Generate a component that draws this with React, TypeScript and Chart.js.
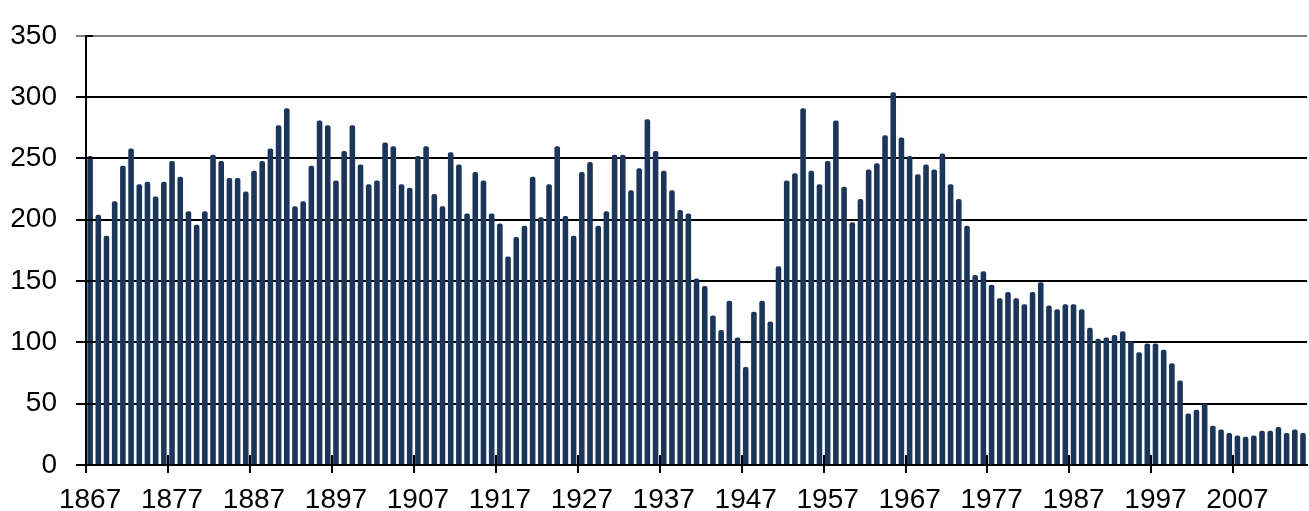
import React, { useEffect, useRef } from 'react';
import { Chart, registerables } from 'chart.js';

Chart.register(...registerables);

// one bar per year, starting in 1867
const startYear = 1867;
const values = [
  252, 204, 187, 215, 244, 258, 229, 231, 219, 231, // 1867-1876
  248, 235, 207, 196, 207, 253, 248, 234, 234, 223, // 1877-1886
  240, 248, 258, 277, 291, 211, 215, 244, 281, 277, // 1887-1896
  232, 256, 277, 245, 229, 232, 263, 260, 229, 226, // 1897-1906
  252, 260, 221, 211, 255, 245, 205, 239, 232, 205, // 1907-1916
  197, 170, 186, 195, 235, 202, 229, 260, 203, 187, // 1917-1926
  239, 247, 195, 207, 253, 253, 224, 242, 282, 256, // 1927-1936
  240, 224, 208, 205, 152, 146, 122, 110, 134, 104, // 1937-1946
  80, 125, 134, 117, 162, 232, 238, 291, 240, 229,  // 1947-1956
  248, 281, 227, 198, 217, 241, 246, 269, 304, 267, // 1957-1966
  252, 237, 245, 241, 254, 229, 217, 195, 155, 158, // 1967-1976
  147, 136, 141, 136, 131, 141, 149, 130, 127, 131, // 1977-1986
  131, 127, 112, 103, 104, 106, 109, 101, 92, 99,   // 1987-1996
  99, 94, 83, 69, 42, 45, 50, 32, 29, 26,           // 1997-2006
  24, 23, 24, 28, 28, 31, 26, 29, 26,               // 2007-2015
];
const years = values.map((_, i) => String(startYear + i));
const tickYears = ['1867', '1877', '1887', '1897', '1907', '1917', '1927', '1937', '1947', '1957', '1967', '1977', '1987', '1997', '2007'];
const yTicks = [0, 50, 100, 150, 200, 250, 300, 350];

const FONT = "'Liberation Sans', Arial, sans-serif";

// Excel-style "cross" tick marks: draw the part that pokes into the plot area
const crossTicks = {
  id: 'crossTicks',
  afterDatasetsDraw(chart: any) {
    const { ctx, scales } = chart;
    const x = scales.x;
    const y = scales.y;
    const half = (x.getPixelForValue(1) - x.getPixelForValue(0)) / 2;
    ctx.save();
    ctx.strokeStyle = '#000';
    ctx.lineWidth = 2;
    ctx.beginPath();
    years.forEach((yr, i) => {
      if (!tickYears.includes(yr)) return;
      const px = Math.round(x.getPixelForValue(i) - half);
      ctx.moveTo(px, y.bottom);
      ctx.lineTo(px, y.bottom - 10);
    });
    yTicks.forEach(v => {
      const py = Math.round(y.getPixelForValue(v));
      ctx.moveTo(x.left, py);
      ctx.lineTo(x.left + 7, py);
    });
    ctx.stroke();
    ctx.restore();
  },
};

const App: React.FC = () => {
  const canvasRef = useRef<HTMLCanvasElement | null>(null);

  useEffect(() => {
    if (!canvasRef.current) return;
    const ctx = canvasRef.current.getContext('2d');
    if (!ctx) return;

    const chart = new Chart(ctx, {
      type: 'bar',
      data: {
        labels: years,
        datasets: [{
          data: values,
          backgroundColor: '#1b365d',
          barPercentage: 0.68,
          categoryPercentage: 1,
          borderRadius: 2,
        }],
      },
      options: {
        animation: false,
        responsive: true,
        maintainAspectRatio: false,
        layout: { padding: { top: 29, left: 0, right: 0, bottom: 0 } },
        plugins: {
          legend: { display: false },
          tooltip: { enabled: false },
        },
        scales: {
          x: {
            offset: true,
            grid: {
              offset: true,
              drawOnChartArea: false,
              drawTicks: true,
              tickLength: 8,
              // tick marks only on the category boundary before each labelled year
              color: (c: any) => (c.tick && tickYears.includes(years[c.index]) ? '#000' : 'rgba(0,0,0,0)'),
              lineWidth: 2,
            },
            border: { display: true, color: '#000', width: 2 },
            ticks: {
              autoSkip: false,
              maxRotation: 0,
              minRotation: 0,
              padding: 10,
              color: '#000',
              font: { family: FONT, size: 28 },
              callback: function (_v, index) {
                const label = years[index];
                return tickYears.includes(label) ? label : '';
              },
            },
            afterFit: (scale: any) => { scale.height = 46; },
          },
          y: {
            min: yTicks[0],
            max: yTicks[yTicks.length - 1],
            afterBuildTicks: (scale: any) => { scale.ticks = yTicks.map(v => ({ value: v })); },
            grid: {
              color: (c: any) => (c.tick && c.tick.value === 350 ? '#808080' : '#000'),
              lineWidth: 2,
              tickLength: 10,
            },
            border: { display: true, color: '#000', width: 2 },
            ticks: {
              padding: 19,
              color: '#000',
              font: { family: FONT, size: 28 },
            },
            afterFit: (scale: any) => { scale.width = 86; },
          },
        },
      },
      plugins: [crossTicks],
    });

    return () => {
      chart.destroy();
    };
  }, []);

  return (
    <div style={{ position: 'absolute', left: 0, top: 0, width: 1309, height: 511, overflow: 'hidden', background: '#fff' }}>
      <div style={{ width: 1313, height: 511, position: 'relative' }}>
        <canvas ref={canvasRef} />
      </div>
    </div>
  );
};

export default App;
